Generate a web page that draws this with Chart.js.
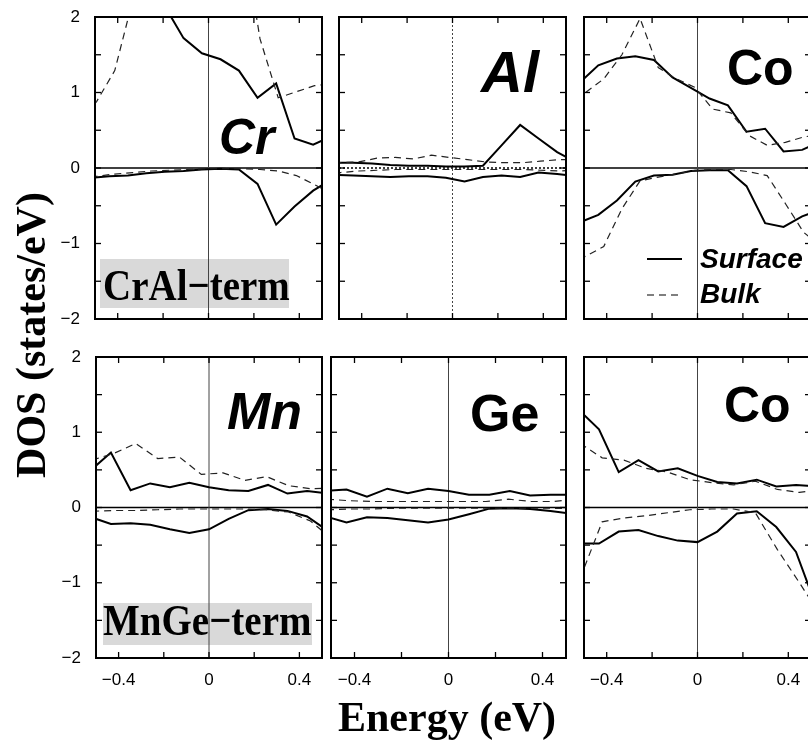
<!DOCTYPE html>
<html>
<head>
<meta charset="utf-8">
<script src="https://cdn.jsdelivr.net/npm/chart.js@4.4.1/dist/chart.umd.min.js"></script>
<style>
  body { margin: 0; background: #fff; }
  #fig { position: relative; width: 808px; height: 742px; overflow: hidden; }
  #fig canvas { position: absolute; }
  .el { position: absolute; font-family: "Liberation Sans", Arial, sans-serif; font-weight: bold; line-height: 1; white-space: nowrap; color: #000; }
  .it { font-style: italic; }
  .serif { position: absolute; font-family: "Liberation Serif", "Times New Roman", serif; font-weight: bold; line-height: 1; white-space: nowrap; color: #000; }
  .tall { transform: scaleY(1.14); transform-origin: 0 84%; }
  .term { position: absolute; background: #d9d9d9; }
</style>
</head>
<body>
<div id="fig">
  <div class="term" style="left:100px;top:259px;width:189px;height:49px"></div>
  <div class="term" style="left:103px;top:603px;width:209px;height:42px"></div>
</div>
<script>
// energy grids (eV): surface and bulk, top row (CrAl-term) and bottom row (MnGe-term)
const ES_TOP = [-0.519, -0.437, -0.355, -0.274, -0.192, -0.110, -0.029, 0.053, 0.134, 0.216, 0.298, 0.379, 0.461, 0.543];
const EB_TOP = [-0.573, -0.493, -0.413, -0.333, -0.253, -0.173, -0.093, -0.013, 0.067, 0.147, 0.227, 0.307, 0.387, 0.467, 0.547];
const ES_BOT = [-0.521, -0.434, -0.347, -0.260, -0.173, -0.087, 0, 0.087, 0.174, 0.261, 0.347, 0.434, 0.521];
const EB_BOT = [-0.517, -0.420, -0.324, -0.227, -0.131, -0.034, 0.062, 0.159, 0.255, 0.352, 0.449, 0.545];

// Cr (CrAl-term)
const crSurfUp = [2.6, 2.8, 2.7, 2.5, 2.14, 1.72, 1.52, 1.44, 1.29, 0.93, 1.12, 0.39, 0.31, 0.42];
const crSurfDn = [-0.13, -0.11, -0.10, -0.07, -0.05, -0.04, -0.02, -0.01, -0.02, -0.21, -0.75, -0.51, -0.30, -0.15];
const crBulkUp = [0.6, 0.88, 1.29, 2.23, 2.6, 2.7, 2.8, 2.9, 2.8, 3.2, 1.71, 0.93, 1.01, 1.09, 1.12];
const crBulkDn = [-0.12, -0.11, -0.08, -0.06, -0.04, -0.03, -0.02, -0.01, -0.01, -0.01, -0.02, -0.04, -0.10, -0.22, -0.35];

// Al
const alSurfUp = [0.07, 0.07, 0.06, 0.04, 0.03, 0.03, 0.02, 0.02, 0.03, 0.30, 0.57, 0.39, 0.21, 0.08];
const alSurfDn = [-0.09, -0.10, -0.11, -0.12, -0.11, -0.11, -0.13, -0.18, -0.12, -0.10, -0.12, -0.06, -0.08, -0.11];
const alBulkUp = [0.06, 0.07, 0.08, 0.13, 0.14, 0.12, 0.17, 0.14, 0.11, 0.08, 0.07, 0.07, 0.09, 0.11, 0.11];
const alBulkDn = [-0.07, -0.06, -0.04, -0.03, -0.02, -0.02, -0.02, -0.02, -0.02, -0.02, -0.02, -0.02, -0.03, -0.04, -0.03];

// Co (CrAl-term)
const coTSurfUp = [1.13, 1.36, 1.45, 1.48, 1.43, 1.20, 1.06, 0.92, 0.83, 0.48, 0.52, 0.22, 0.24, 0.35];
const coTSurfDn = [-0.72, -0.62, -0.43, -0.18, -0.10, -0.09, -0.04, -0.03, -0.03, -0.24, -0.73, -0.78, -0.64, -0.55];
const coTBulkUp = [0.80, 1.00, 1.18, 1.50, 1.98, 1.33, 1.18, 1.07, 0.78, 0.73, 0.43, 0.30, 0.34, 0.41, 0.45];
const coTBulkDn = [-1.25, -1.17, -1.04, -0.54, -0.17, -0.12, -0.08, -0.03, -0.02, -0.02, -0.05, -0.10, -0.47, -0.85, -1.05];

// Mn (MnGe-term)
const mnSurfUp = [0.50, 0.73, 0.23, 0.32, 0.27, 0.33, 0.27, 0.23, 0.22, 0.30, 0.185, 0.22, 0.19];
const mnSurfDn = [-0.13, -0.22, -0.21, -0.23, -0.29, -0.34, -0.29, -0.15, -0.035, -0.02, -0.045, -0.12, -0.30];
const mnBulkUp = [0.63, 0.72, 0.85, 0.65, 0.67, 0.44, 0.46, 0.36, 0.41, 0.29, 0.25, 0.26];
const mnBulkDn = [-0.05, -0.04, -0.04, -0.03, -0.02, -0.02, -0.02, -0.02, -0.03, -0.06, -0.18, -0.42];

// Ge
const geSurfUp = [0.22, 0.24, 0.145, 0.25, 0.19, 0.25, 0.22, 0.17, 0.17, 0.22, 0.16, 0.17, 0.17];
const geSurfDn = [-0.12, -0.20, -0.13, -0.14, -0.17, -0.20, -0.16, -0.09, -0.015, -0.01, -0.02, -0.045, -0.08];
const geBulkUp = [0.11, 0.09, 0.08, 0.08, 0.08, 0.08, 0.08, 0.08, 0.11, 0.08, 0.08, 0.11];
const geBulkDn = [-0.03, -0.02, -0.02, -0.01, -0.01, -0.01, -0.01, -0.01, -0.01, -0.01, -0.01, -0.02];

// Co (MnGe-term)
const coBSurfUp = [1.29, 1.04, 0.47, 0.63, 0.48, 0.52, 0.42, 0.34, 0.32, 0.37, 0.28, 0.30, 0.28];
const coBSurfDn = [-0.48, -0.48, -0.32, -0.30, -0.38, -0.44, -0.46, -0.32, -0.08, -0.05, -0.26, -0.59, -1.30];
const coBBulkUp = [0.85, 0.66, 0.63, 0.52, 0.47, 0.37, 0.33, 0.30, 0.35, 0.24, 0.20, 0.24];
const coBBulkDn = [-0.94, -0.19, -0.14, -0.11, -0.07, -0.03, -0.02, -0.02, -0.07, -0.56, -1.00, -1.45];

// ticks
const X_TICKS = [-0.4, -0.2, 0, 0.2, 0.4];
const X_TICK_LABELS = ['\u22120.4', '', '0', '', '0.4'];
const Y_TICKS = [-2, -1.5, -1, -0.5, 0, 0.5, 1, 1.5, 2];
const Y_TICK_LABELS = ['\u22122', '', '\u22121', '', '0', '', '1', '', '2'];

const PAD = 30;

const panels = [
  { x0: 95,  x1: 322, y0: 17,  y1: 319, sx: ES_TOP, bx: EB_TOP, su: crSurfUp, sd: crSurfDn, bu: crBulkUp, bd: crBulkDn, yLab: true },
  { x0: 339, x1: 566, y0: 17,  y1: 319, sx: ES_TOP, bx: EB_TOP, su: alSurfUp, sd: alSurfDn, bu: alBulkUp, bd: alBulkDn, dotted: true },
  { x0: 584, x1: 811, y0: 17,  y1: 319, sx: ES_TOP, bx: EB_TOP, su: coTSurfUp, sd: coTSurfDn, bu: coTBulkUp, bd: coTBulkDn, legend: true },
  { x0: 96,  x1: 322, y0: 357, y1: 658, sx: ES_BOT, bx: EB_BOT, su: mnSurfUp, sd: mnSurfDn, bu: mnBulkUp, bd: mnBulkDn, yLab: true, xLab: true },
  { x0: 331, x1: 566, y0: 357, y1: 658, sx: ES_BOT, bx: EB_BOT, su: geSurfUp, sd: geSurfDn, bu: geBulkUp, bd: geBulkDn, xLab: true },
  { x0: 584, x1: 811, y0: 357, y1: 658, sx: ES_BOT, bx: EB_BOT, su: coBSurfUp, sd: coBSurfDn, bu: coBBulkUp, bd: coBBulkDn, xLab: true },
];

// element labels and legend text
const labels = [
  { t: 'Cr', x: 219, y: 112, s: 50, it: true },
  { t: 'Al', x: 481, y: 43,  s: 58, it: true },
  { t: 'Co', x: 727, y: 43,  s: 50 },
  { t: 'Mn', x: 227, y: 385, s: 52, it: true },
  { t: 'Ge', x: 470, y: 387, s: 52 },
  { t: 'Co', x: 724, y: 380, s: 50 },
  { t: 'Surface', x: 700, y: 245, s: 28, it: true },
  { t: 'Bulk', x: 700, y: 280, s: 28, it: true },
];

Chart.defaults.font.family = '"Liberation Sans", Arial, sans-serif';
Chart.defaults.color = '#000';

const line = (ctx, a, b, c, d) => {
  ctx.beginPath();
  ctx.moveTo(a, b);
  ctx.lineTo(c, d);
  ctx.stroke();
};

const framePlugin = {
  id: 'frame',
  beforeDatasetsDraw(chart, args, opts) {
    const { ctx, chartArea: a, scales: { x, y } } = chart;
    ctx.save();
    if (opts.dotted) ctx.setLineDash([2, 2]);
    ctx.strokeStyle = '#000';
    ctx.lineWidth = 1.5;
    const yz = y.getPixelForValue(0);
    line(ctx, a.left, yz, a.right, yz);
    ctx.strokeStyle = '#444';
    ctx.lineWidth = 1;
    const xz = x.getPixelForValue(0);
    line(ctx, xz, a.top, xz, a.bottom);
    ctx.restore();
  },
  afterDatasetsDraw(chart, args, opts) {
    const { ctx, chartArea: a, scales: { x, y } } = chart;
    ctx.save();
    ctx.strokeStyle = '#000';
    ctx.lineWidth = 1.3;
    Y_TICKS.forEach(v => {
      const py = y.getPixelForValue(v);
      line(ctx, a.left, py, a.left + 6, py);
      line(ctx, a.right - 6, py, a.right, py);
    });
    X_TICKS.forEach(v => {
      const px = x.getPixelForValue(v);
      line(ctx, px, a.top, px, a.top + 6);
      line(ctx, px, a.bottom - 6, px, a.bottom);
    });
    ctx.lineWidth = 2;
    ctx.strokeRect(a.left, a.top, a.right - a.left, a.bottom - a.top);

    if (opts.legend) {
      ctx.lineWidth = 2;
      line(ctx, a.left + 63, a.top + 242, a.left + 98, a.top + 242);
      ctx.lineWidth = 1.2;
      ctx.setLineDash([7, 5]);
      line(ctx, a.left + 63, a.top + 278, a.left + 98, a.top + 278);
    }
    ctx.restore();
  }
};

const fig = document.getElementById('fig');

panels.forEach(p => {
  const ml = PAD + (p.yLab ? 50 : 0);
  const mb = PAD + (p.xLab ? 36 : 0);
  const cv = document.createElement('canvas');
  const w = p.x1 - p.x0 + ml + PAD;
  const h = p.y1 - p.y0 + PAD + mb;
  cv.width = w;
  cv.height = h;
  cv.style.width = w + 'px';
  cv.style.height = h + 'px';
  fig.appendChild(cv);

  const pts = (xs, ys) => xs.map((e, i) => ({ x: e, y: ys[i] }));
  const surf = { borderColor: '#000', borderWidth: 2 };
  const bulk = { borderColor: '#222', borderWidth: 1.2, borderDash: [7, 5] };

  const chart = new Chart(cv, {
    type: 'line',
    data: {
      datasets: [
        { label: 'Bulk', data: pts(p.bx, p.bu), ...bulk },
        { label: 'Bulk', data: pts(p.bx, p.bd), ...bulk },
        { label: 'Surface', data: pts(p.sx, p.su), ...surf },
        { label: 'Surface', data: pts(p.sx, p.sd), ...surf },
      ],
    },
    options: {
      responsive: false,
      animation: false,
      devicePixelRatio: 1,
      layout: { padding: { left: PAD, right: PAD, top: PAD, bottom: PAD } },
      elements: { point: { radius: 0 }, line: { tension: 0 } },
      plugins: {
        legend: { display: false },
        tooltip: { enabled: false },
        frame: { dotted: !!p.dotted, legend: !!p.legend },
      },
      scales: {
        x: {
          type: 'linear',
          min: -0.5,
          max: 0.5,
          grid: { display: false, drawTicks: false },
          border: { display: false },
          afterBuildTicks: s => { s.ticks = X_TICKS.map(v => ({ value: v })); },
          afterFit: s => { s.height = p.xLab ? 36 : 0; },
          ticks: {
            display: !!p.xLab,
            padding: 12,
            maxRotation: 0,
            autoSkip: false,
            font: { size: 17 },
            callback: (v, i) => X_TICK_LABELS[i],
          },
        },
        y: {
          type: 'linear',
          min: -2,
          max: 2,
          grid: { display: false, drawTicks: false },
          border: { display: false },
          afterBuildTicks: s => { s.ticks = Y_TICKS.map(v => ({ value: v })); },
          afterFit: s => { s.width = p.yLab ? 50 : 0; },
          ticks: {
            display: !!p.yLab,
            padding: 15,
            autoSkip: false,
            font: { size: 17 },
            callback: (v, i) => Y_TICK_LABELS[i],
          },
        },
      },
    },
    plugins: [framePlugin],
  });

  // place the canvas so that the plot area lands on the panel rectangle
  const a = chart.chartArea;
  cv.style.left = (p.x0 - a.left) + 'px';
  cv.style.top = (p.y0 - a.top) + 'px';
});

labels.forEach(l => {
  const d = document.createElement('div');
  d.className = 'el' + (l.it ? ' it' : '');
  d.textContent = l.t;
  d.style.left = l.x + 'px';
  d.style.top = l.y + 'px';
  d.style.fontSize = l.s + 'px';
  fig.appendChild(d);
});

// serif texts: termination tags and axis titles
const serifTexts = [
  { t: 'CrAl\u2212term', x: 103, y: 267, s: 39, tall: true },
  { t: 'MnGe\u2212term', x: 103, y: 602, s: 39, tall: true },
  { t: 'Energy (eV)', x: 338, y: 696, s: 42 },
];
serifTexts.forEach(l => {
  const d = document.createElement('div');
  d.className = 'serif' + (l.tall ? ' tall' : '');
  d.textContent = l.t;
  d.style.left = l.x + 'px';
  d.style.top = l.y + 'px';
  d.style.fontSize = l.s + 'px';
  fig.appendChild(d);
});

const yt = document.createElement('div');
yt.className = 'serif';
yt.textContent = 'DOS (states/eV)';
yt.style.fontSize = '42px';
yt.style.width = '400px';
yt.style.textAlign = 'center';
yt.style.left = (31 - 200) + 'px';
yt.style.top = (335 - 21) + 'px';
yt.style.transform = 'rotate(-90deg)';
fig.appendChild(yt);
</script>
</body>
</html>
